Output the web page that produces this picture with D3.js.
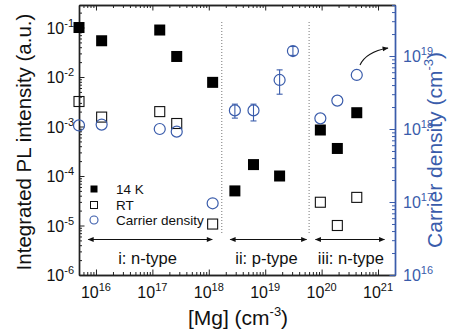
<!DOCTYPE html>
<html>
<head>
<meta charset="utf-8">
<script src="https://cdn.jsdelivr.net/npm/d3@7/dist/d3.min.js"></script>
<style>
  body { margin: 0; background: #fff; }
  svg text { font-family: "Liberation Sans", Arial, sans-serif; }
</style>
</head>
<body>
<script>
// ---------------- data ----------------
const mg14K   = [5e15, 1.26e16, 1.35e17, 2.7e17, 1.17e18, 2.9e18, 6.2e18, 1.8e19, 9.5e19, 1.9e20, 4.2e20];
const pl14K   = [0.1, 0.054, 0.089, 0.026, 0.0078, 5e-5, 1.7e-4, 1.0e-4, 8.5e-4, 3.6e-4, 1.9e-3];
const mgRT    = [5e15, 1.26e16, 1.35e17, 2.7e17, 1.17e18, 9.5e19, 1.9e20, 4.2e20];
const plRT    = [3.2e-3, 1.55e-3, 2.0e-3, 1.15e-3, 1.07e-5, 2.95e-5, 1.0e-5, 3.7e-5];
const mgCarrier = [5e15, 1.26e16, 1.35e17, 2.7e17, 1.17e18, 2.9e18, 6.2e18, 1.8e19, 3.1e19, 9.5e19, 1.9e20, 4.2e20];
const carrier   = [1.12e18, 1.15e18, 1e18, 9.2e17, 9.6e16, 1.8e18, 1.8e18, 4.7e18, 1.17e19, 1.4e18, 2.45e18, 5.5e18];
// error bars (only p-type points)
const errMg   = [2.9e18, 6.2e18, 1.8e19, 3.1e19];
const errLow  = [1.41e18, 1.29e18, 3.0e18, 1.02e19];
const errHigh = [2.19e18, 2.19e18, 6.46e18, 1.35e19];
// region boundaries and labels
const boundaries = [1.7e18, 6.0e19];
const regions = [
  {label: "i: n-type",  from: 7.3e15, to: 1.15e18, mid: 8.2e16},
  {label: "ii: p-type", from: 2.4e18, to: 5.4e19, mid: 1.05e19},
  {label: "iii: n-type",from: 7.8e19, to: 1.3e21, mid: 3.3e20}
];
const legendItems = ["14 K", "RT", "Carrier density"];

// ---------------- layout ----------------
const L = 79, R = 395, T = 5, B = 275;
const BLUE = "#3a5cab";

const x  = d3.scaleLog().domain([5e15, 2e21]).range([L, R]);
const yL = d3.scaleLog().domain([1e-6, 0.285]).range([B, T]);
const yR = d3.scaleLog().domain([1e16, 5e19]).range([B, T]);

const svg = d3.select("body").append("svg").attr("width", 460).attr("height", 331);

const isMajor = d => Math.abs(Math.log10(d) - Math.round(Math.log10(d))) < 1e-6;
function split(scale) {
  const t = scale.ticks();
  return [t.filter(isMajor), t.filter(d => !isMajor(d))];
}
const [xMaj, xMin] = split(x);
const [lMaj, lMin] = split(yL);
const [rMaj, rMin] = split(yR);

function styleAxis(g, color) {
  g.selectAll("path.domain").attr("stroke", color).attr("stroke-width", 1.4);
  g.selectAll(".tick line").attr("stroke", color).attr("stroke-width", 1);
  g.selectAll(".tick text").remove();
}
function drawAxis(gen, scale, maj, min, transform, color) {
  const g = svg.append("g").attr("transform", transform);
  g.append("g").call(gen(scale).tickValues(min).tickSize(-3).tickSizeOuter(0).tickFormat("")).call(s => styleAxis(s, color));
  g.append("g").call(gen(scale).tickValues(maj).tickSize(-5.5).tickSizeOuter(0).tickFormat("")).call(s => styleAxis(s, color));
  return g;
}
drawAxis(d3.axisBottom, x, xMaj, xMin, `translate(0,${B})`, "#222");
drawAxis(d3.axisTop, x, xMaj, xMin, `translate(0,${T})`, "#222");
drawAxis(d3.axisLeft, yL, lMaj, lMin, `translate(${L},0)`, "#222");
drawAxis(d3.axisRight, yR, rMaj, rMin, `translate(${R},0)`, BLUE);

function powLabel(sel, d) {
  const e = Math.round(Math.log10(d));
  sel.append("tspan").text("10");
  sel.append("tspan").attr("font-size", 11).attr("dy", "-0.62em").text(e);
}
// bottom labels
svg.append("g").selectAll("text").data(xMaj).join("text")
  .attr("x", d => x(d)).attr("y", B + 23).attr("text-anchor", "middle")
  .attr("font-size", 16).attr("fill", "#111")
  .each(function(d) { powLabel(d3.select(this), d); });
// left labels
svg.append("g").selectAll("text").data(lMaj).join("text")
  .attr("x", L - 5).attr("y", d => yL(d) + 6).attr("text-anchor", "end")
  .attr("font-size", 16).attr("fill", "#111")
  .each(function(d) { powLabel(d3.select(this), d); });
// right labels
svg.append("g").selectAll("text").data(rMaj).join("text")
  .attr("x", R + 8).attr("y", d => yR(d) + 6).attr("text-anchor", "start")
  .attr("font-size", 16).attr("fill", BLUE)
  .each(function(d) { powLabel(d3.select(this), d); });

// axis titles
svg.append("text").attr("transform", `translate(31,${(T + B) / 2 + 2}) rotate(-90)`)
  .attr("text-anchor", "middle").attr("font-size", 20.5).attr("fill", "#111")
  .text("Integrated PL intensity (a.u.)");
const xt = svg.append("text").attr("x", 238).attr("y", 325).attr("text-anchor", "middle")
  .attr("font-size", 21).attr("fill", "#111");
xt.append("tspan").text("[Mg] (cm");
xt.append("tspan").attr("font-size", 13).attr("dy", "-0.7em").text("-3");
xt.append("tspan").attr("dy", "0.45em").text(")");
const rt = svg.append("text").attr("transform", `translate(442,${150}) rotate(-90)`)
  .attr("text-anchor", "middle").attr("font-size", 21).attr("fill", BLUE);
rt.append("tspan").text("Carrier density (cm");
rt.append("tspan").attr("font-size", 13).attr("dy", "-0.7em").text("-3");
rt.append("tspan").attr("dy", "0.45em").text(")");

// boundaries
svg.append("g").selectAll("line").data(boundaries).join("line")
  .attr("x1", d => x(d)).attr("x2", d => x(d)).attr("y1", 22).attr("y2", 234)
  .attr("stroke", "#777").attr("stroke-width", 1).attr("stroke-dasharray", "1,2");

// arrows
const defs = svg.append("defs");
defs.append("marker").attr("id", "ah").attr("viewBox", "0 0 10 10").attr("refX", 9).attr("refY", 5)
  .attr("markerWidth", 7).attr("markerHeight", 6).attr("orient", "auto-start-reverse")
  .attr("markerUnits", "userSpaceOnUse")
  .append("path").attr("d", "M0,1 L10,5 L0,9 Z").attr("fill", "#111");
svg.append("g").selectAll("line").data(regions).join("line")
  .attr("x1", d => x(d.from)).attr("x2", d => x(d.to)).attr("y1", 239.5).attr("y2", 239.5)
  .attr("stroke", "#111").attr("stroke-width", 1.1)
  .attr("marker-start", "url(#ah)").attr("marker-end", "url(#ah)");
svg.append("g").selectAll("text").data(regions).join("text")
  .attr("x", d => x(d.mid)).attr("y", 264).attr("text-anchor", "middle")
  .attr("font-size", 16.5).attr("fill", "#111").text(d => d.label);

// curved arrow pointing to right axis
svg.append("path").attr("d", "M360,65 Q366,52 388,48").attr("fill", "none")
  .attr("stroke", "#111").attr("stroke-width", 1.1).attr("marker-end", "url(#ah)");

// 14 K filled squares
svg.append("g").selectAll("rect").data(mg14K).join("rect")
  .attr("x", d => x(d) - 5.5).attr("y", (d, i) => yL(pl14K[i]) - 5.5)
  .attr("width", 11).attr("height", 11).attr("fill", "#000");
// RT open squares
svg.append("g").selectAll("rect").data(mgRT).join("rect")
  .attr("x", d => x(d) - 5).attr("y", (d, i) => yL(plRT[i]) - 5)
  .attr("width", 10).attr("height", 10).attr("fill", "none").attr("stroke", "#111").attr("stroke-width", 1.1);
// error bars
const eb = svg.append("g").attr("stroke", BLUE).attr("stroke-width", 1.1);
errMg.forEach((m, i) => {
  const cx = x(m), y1 = yR(errLow[i]), y2 = yR(errHigh[i]);
  eb.append("line").attr("x1", cx).attr("x2", cx).attr("y1", y1).attr("y2", y2);
  eb.append("line").attr("x1", cx - 3).attr("x2", cx + 3).attr("y1", y1).attr("y2", y1);
  eb.append("line").attr("x1", cx - 3).attr("x2", cx + 3).attr("y1", y2).attr("y2", y2);
});
// carrier density circles
svg.append("g").selectAll("circle").data(mgCarrier).join("circle")
  .attr("cx", d => x(d)).attr("cy", (d, i) => yR(carrier[i])).attr("r", 5.5)
  .attr("fill", "none").attr("stroke", BLUE).attr("stroke-width", 1.2);

// legend
const lg = svg.append("g");
const ly = [189, 205, 220];
lg.append("rect").attr("x", 94 - 3.5).attr("y", ly[0] - 3.5).attr("width", 7).attr("height", 7).attr("fill", "#000");
lg.append("rect").attr("x", 94 - 3.5).attr("y", ly[1] - 3.5).attr("width", 7).attr("height", 7).attr("fill", "none").attr("stroke", "#111");
lg.append("circle").attr("cx", 94).attr("cy", ly[2]).attr("r", 4).attr("fill", "none").attr("stroke", BLUE).attr("stroke-width", 1.1);
lg.selectAll("text").data(legendItems).join("text")
  .attr("x", 116).attr("y", (d, i) => ly[i] + 5).attr("font-size", 13.5).attr("fill", "#111").text(d => d);
</script>
</body>
</html>
